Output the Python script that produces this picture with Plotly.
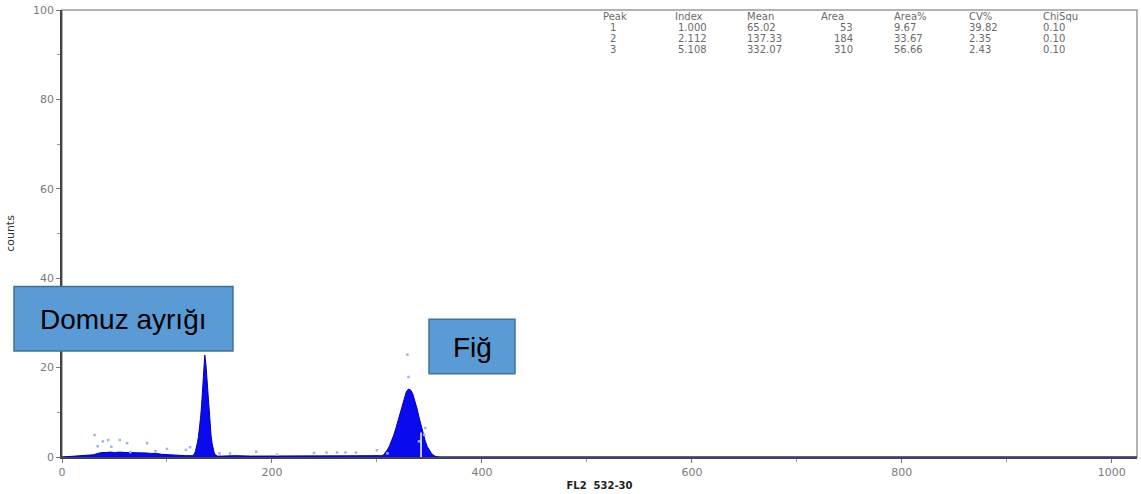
import plotly.graph_objects as go

# ---------------- data ----------------
hist_channel = [0, 18, 22, 26, 30, 34, 38, 42, 46, 50, 55, 60, 65, 70, 75, 80, 85, 90, 95, 100,
                106, 112, 118, 124,
                126, 127, 128, 129, 130, 131, 132, 133, 134, 135, 136, 137, 138, 139, 140, 141,
                142, 143, 144, 145, 146, 147, 148,
                152, 165, 180, 200, 220, 240, 260, 280, 295, 304,
                306, 308, 310, 312, 314, 316, 318, 320, 322, 324, 326, 328, 330, 332, 334, 336,
                338, 340, 342, 344, 346, 348, 350, 352, 354, 356,
                360, 1024]
hist_counts = [0, 0.2, 0.3, 0.4, 0.5, 0.8, 1.0, 1.0, 1.1, 1.0, 1.1, 1.0, 1.0, 1.0, 0.9, 0.9, 0.8, 0.8, 0.6, 0.5,
               0.4, 0.4, 0.3, 0.3,
               0.6, 1.2, 2.0, 3.2, 4.6, 6.4, 8.8, 11.6, 15.0, 19.0, 22.8, 21.0, 17.5, 13.8, 10.2, 7.2,
               4.8, 3.0, 1.7, 0.9, 0.5, 0.3, 0.2,
               0.2, 0.3, 0.2, 0.2, 0.3, 0.2, 0.3, 0.3, 0.3, 0.3,
               0.4, 0.9, 1.6, 2.5, 3.6, 4.9, 6.4, 8.1, 9.9, 11.7, 13.3, 14.6, 15.2, 15.0, 14.2, 12.8,
               11.0, 9.0, 7.0, 5.2, 3.6, 2.3, 1.4, 0.8, 0.4, 0.1,
               0, 0]

dots_channel = [31, 34, 39, 44, 47, 55, 62, 65, 81, 89, 100, 118, 122, 150, 160, 185, 205,
                240, 252, 262, 270, 280, 300, 310, 329, 330, 340, 345, 346]
dots_counts = [4.9, 2.4, 3.5, 3.8, 2.3, 3.8, 3.1, 1.1, 3.1, 1.3, 1.8, 1.6, 2.2, 0.8, 0.8, 1.2, 0.5,
               0.9, 1.0, 1.0, 1.0, 1.0, 1.5, 0.8, 22.9, 17.9, 3.5, 5.0, 6.5]

gate_channel = [342, 342]
gate_counts = [0, 5.5]

x_ticks = [0, 200, 400, 600, 800, 1000]
y_ticks = [0, 20, 40, 60, 80, 100]

tbl_header = ["Peak", "Index", "Mean", "Area", "Area%", "CV%", "ChiSqu"]
tbl_peak = ["1", "2", "3"]
tbl_index = ["1.000", "2.112", "5.108"]
tbl_mean = ["65.02", "137.33", "332.07"]
tbl_area = ["53", "184", "310"]
tbl_area_pct = ["9.67", "33.67", "56.66"]
tbl_cv = ["39.82", "2.35", "2.43"]
tbl_chi = ["0.10", "0.10", "0.10"]

labels = ["Domuz ayrığı", "Fiğ"]

# ---------------- layout helpers ----------------
W, H = 1141, 494
ML, MR, MT, MB = 62, 4, 8, 35
PW, PH = W - ML - MR, H - MT - MB


def px(x):
    return (x - ML) / PW


def py(y):
    return (H - MB - y) / PH


fig = go.Figure()
fig.add_trace(go.Scatter(x=hist_channel, y=hist_counts, mode="lines", fill="tozeroy",
                         line=dict(color="#0000b4", width=1), fillcolor="#0a0aee",
                         hoverinfo="skip", showlegend=False))
fig.add_trace(go.Scatter(x=dots_channel, y=dots_counts, mode="markers",
                         marker=dict(symbol="square", size=2.5, color="#9ab6ee"),
                         hoverinfo="skip", showlegend=False))
fig.add_trace(go.Scatter(x=gate_channel, y=gate_counts, mode="lines",
                         line=dict(color="white", width=1.5), hoverinfo="skip", showlegend=False))

shapes = [dict(type="rect", xref="paper", yref="paper", x0=0, x1=1, y0=0, y1=1,
               line=dict(color="#9a9a9a", width=1.5), layer="below")]
annotations = []

# label boxes
boxes = [(14, 233, 287, 352), (429, 515, 320, 375)]
for text, (x0, x1, y0, y1) in zip(labels, boxes):
    shapes.append(dict(type="rect", xref="paper", yref="paper",
                       x0=px(x0), x1=px(x1), y0=py(y1), y1=py(y0),
                       fillcolor="#5b9bd5", line=dict(color="#41719c", width=1.5), layer="above"))
    annotations.append(dict(xref="paper", yref="paper", x=px((x0 + x1) / 2), y=py((y0 + y1) / 2 + 1),
                            text=text, showarrow=False, xanchor="center", yanchor="middle",
                            font=dict(family="Liberation Sans, Arial", size=28, color="#000000")))

# stats table
tfont = dict(family="DejaVu Sans", size=10, color="#6a6a6a")
hdr_x = [601, 673, 745, 819, 892, 967, 1041]
for h, xx in zip(tbl_header, hdr_x):
    annotations.append(dict(xref="paper", yref="paper", x=px(xx), y=py(15), text=h, showarrow=False,
                            xanchor="left", yanchor="middle", font=tfont))
row_y = [26, 37, 48]
cols = [(tbl_peak, 613, "center"), (tbl_index, 676, "left"), (tbl_mean, 745, "left"),
        (tbl_area, 855, "right"), (tbl_area_pct, 892, "left"), (tbl_cv, 967, "left"),
        (tbl_chi, 1041, "left")]
for vals, xx, anc in cols:
    for v, yy in zip(vals, row_y):
        annotations.append(dict(xref="paper", yref="paper", x=px(xx), y=py(yy), text=v,
                                showarrow=False, xanchor=anc, yanchor="middle", font=tfont))

fig.update_layout(
    width=W, height=H, margin=dict(l=ML, r=MR, t=MT, b=MB),
    plot_bgcolor="white", paper_bgcolor="white",
    shapes=shapes, annotations=annotations,
    xaxis=dict(range=[0, 1024], tickvals=x_ticks, ticks="outside", ticklen=4, tickcolor="#777",
               showline=True, linecolor="#444", linewidth=1.5, showgrid=False, zeroline=False,
               minor=dict(dtick=100, tick0=0, ticks="outside", ticklen=3, tickcolor="#999"),
               tickfont=dict(family="DejaVu Sans", size=11, color="#7a7a7a"),
               title=dict(text="<b>FL2  532-30</b>", standoff=4,
                          font=dict(family="DejaVu Sans", size=10, color="#222"))),
    yaxis=dict(range=[0, 100], tickvals=y_ticks, ticks="outside", ticklen=4, tickcolor="#777",
               showline=True, linecolor="#444", linewidth=1.5, showgrid=False, zeroline=False,
               minor=dict(dtick=10, tick0=0, ticks="outside", ticklen=3, tickcolor="#999"),
               tickfont=dict(family="DejaVu Sans", size=11, color="#7a7a7a"),
               title=dict(text="counts", standoff=16,
                          font=dict(family="DejaVu Sans", size=11, color="#333"))),
)

fig.write_html("out.html")
